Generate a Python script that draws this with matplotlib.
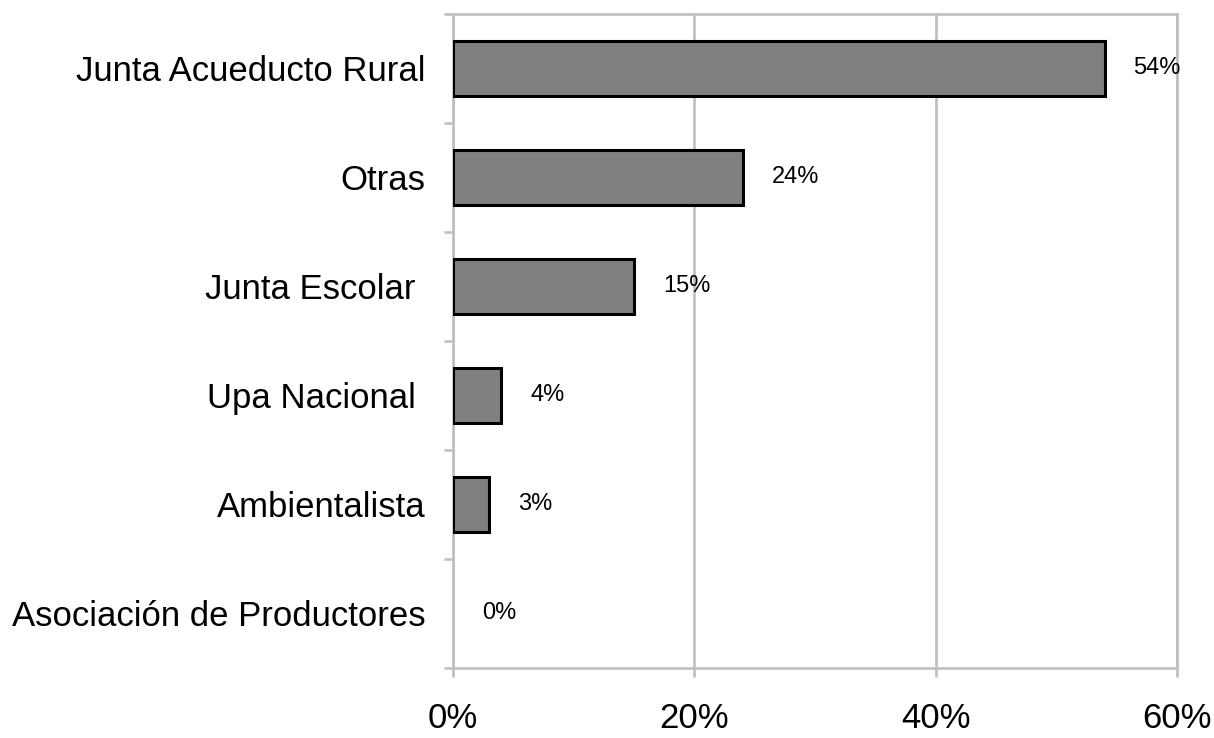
import numpy as np
import matplotlib
matplotlib.use('Agg')
import matplotlib.pyplot as plt
from matplotlib.ticker import FixedLocator

categories = ["Junta Acueducto Rural", "Otras", "Junta Escolar ", "Upa Nacional ",
              "Ambientalista", "Asociación de Productores"]
values = [54, 24, 15, 4, 3, 0]
x_ticks = [0, 20, 40, 60]
x_tick_labels = ["0%", "20%", "40%", "60%"]

plt.rcParams['font.family'] = ['Liberation Sans', 'DejaVu Sans']
GRID = '#BFBFBF'

fig = plt.figure(figsize=(12.14, 7.38), dpi=100)
ax = fig.add_axes([0.3731, 0.0949, 0.5964, 0.8862])

y = np.arange(len(categories))
# zero-value bar draws no outline in the original
edge_w = [2.2 if v > 0 else 0 for v in values]
ax.barh(y, values, height=0.5, color='#808080', edgecolor='black', linewidth=edge_w, zorder=3)

for yi, v in zip(y, values):
    ax.annotate(f"{v}%", (v, yi), xytext=(29, 0), textcoords='offset pixels',
                ha='left', va='center', fontsize=17, zorder=4)

ax.set_xlim(0, 60)
ax.set_ylim(len(categories) - 0.5, -0.5)
ax.set_xticks(x_ticks)
ax.set_xticklabels(x_tick_labels, fontsize=25)
ax.set_yticks(y)
ax.set_yticklabels(categories, fontsize=25)
ax.yaxis.set_minor_locator(FixedLocator(np.arange(-0.5, len(categories), 1)))

ax.tick_params(axis='y', which='major', length=0, pad=20)
ax.tick_params(axis='y', which='minor', length=6.5, width=1.9, color=GRID)
ax.tick_params(axis='x', length=6.5, width=1.9, color=GRID, pad=18)

ax.grid(axis='x', color=GRID, linewidth=1.9, zorder=0)
for s in ax.spines.values():
    s.set_color(GRID)
    s.set_linewidth(1.9)

fig.savefig("out.png", dpi=100)
